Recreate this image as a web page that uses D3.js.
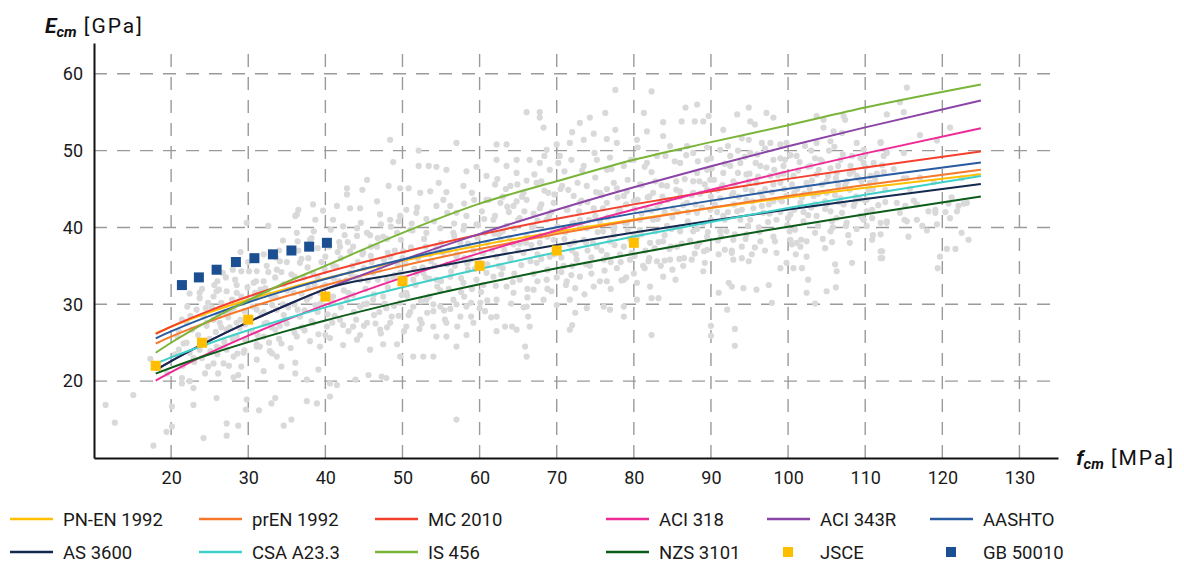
<!DOCTYPE html>
<html>
<head>
<meta charset="utf-8">
<script src="https://cdn.jsdelivr.net/npm/d3@7"></script>
<style>
  body { margin: 0; background: #fff; }
  svg { display: block; font-family: Roboto, "Noto Sans", sans-serif; }
</style>
</head>
<body>
<div id="chart"></div>
<script>
// f_cm values at which the code curves are read
var fcmPoints = [18, 20, 25, 30, 35, 40, 50, 60, 70, 80, 90, 100, 110, 125];

// E_cm [GPa] per code
var pnEN1992 = [26.24, 27.08, 28.96, 30.59, 32.04, 33.35, 35.66, 37.66, 39.44, 41.05, 42.53, 43.90, 45.17, 46.93];
var prEN1992 = [24.90, 25.79, 27.78, 29.52, 31.08, 32.49, 35.00, 37.19, 39.15, 40.93, 42.57, 44.10, 45.52, 47.50];
var mc2010   = [26.15, 27.09, 29.18, 31.01, 32.64, 34.13, 36.76, 39.07, 41.13, 43.00, 44.72, 46.32, 47.81, 49.90];
var aci318   = [20.08, 21.17, 23.67, 25.92, 28.00, 29.93, 33.47, 36.66, 39.60, 42.33, 44.90, 47.33, 49.64, 52.92];
var aci343R  = [21.45, 22.61, 25.28, 27.69, 29.91, 31.98, 35.75, 39.16, 42.30, 45.22, 47.96, 50.56, 53.02, 56.52];
var aashto   = [25.57, 26.47, 28.49, 30.26, 31.84, 33.28, 35.82, 38.04, 40.03, 41.83, 43.49, 45.03, 46.46, 48.46];
var as3600   = [21.45, 22.61, 25.28, 27.69, 29.91, 31.98, 34.06, 35.97, 37.72, 39.35, 40.88, 42.33, 43.70, 45.66];
var csaA233  = [22.28, 23.09, 24.94, 26.62, 28.16, 29.60, 32.23, 34.60, 36.78, 38.82, 40.72, 42.53, 44.25, 46.68];
var is456    = [23.7, 25.0, 27.9, 30.5, 32.9, 35.0, 39.3, 43.1, 46.0, 48.8, 51.1, 53.3, 55.6, 58.6];
var nzs3101  = [20.99, 21.75, 23.50, 25.08, 26.54, 27.90, 30.38, 32.62, 34.68, 36.59, 38.40, 40.10, 41.72, 44.02];

// point series
var jsceFcm = [18, 24, 30, 40, 50, 60, 70, 80];
var jsceE   = [22, 25, 28, 31, 33, 35, 37, 38];
var gbFcm = [21.4, 23.6, 25.9, 28.4, 30.8, 33.2, 35.6, 37.9, 40.2];
var gbE   = [32.5, 33.5, 34.5, 35.5, 36.0, 36.5, 37.0, 37.5, 38.0];

// test results [fcm, Ecm]
var tests = [
[11.5,16.9],[12.7,14.6],[15.1,18.2],[17.7,11.6],[19.4,13.4],[20.1,14.1],[20.1,16.7],[17.3,22.9],[18.5,21.8],[19.5,21.0],
[21.4,28.0],[22.1,29.7],[22.4,31.4],[23.7,30.8],[23.3,29.3],[22.0,27.6],[22.7,26.7],[20.8,25.8],[21.6,24.9],[22.4,23.7],
[22.9,23.0],[21.0,24.1],[23.7,24.1],[24.4,24.9],[24.6,27.6],[24.2,28.4],[21.4,20.4],[21.4,19.7],[22.4,20.0],[22.9,19.1],
[24.4,21.0],[24.8,21.9],[22.9,16.9],[24.2,12.6],[23.7,31.5],[24.8,30.2],
[26.7,34.1],[25.9,31.7],[27.2,31.7],[26.5,30.2],[27.6,29.1],[25.5,28.0],[26.3,27.6],[27.2,26.7],[28.5,27.6],[28.5,25.8],
[25.9,24.5],[27.2,24.1],[28.1,23.2],[25.5,22.3],[26.8,22.3],[28.7,20.8],[28.1,20.5],[26.1,21.0],[25.9,17.8],[27.2,14.5],
[27.2,12.9],[28.7,14.2],[29.0,36.8],[29.1,34.3],[28.5,31.5],[29.4,30.2],[29.6,25.4],[29.4,23.7],[29.1,21.9],[29.8,17.6],
[29.7,16.3],[29.8,40.6],
[32.6,40.2],[34.5,38.3],[31.1,34.3],[32.4,35.0],[33.7,34.5],[34.3,34.2],[30.7,32.8],[32.0,33.0],[33.0,31.0],[31.1,29.3],
[32.4,27.6],[33.5,26.7],[32.0,25.8],[34.3,24.9],[31.1,24.5],[32.8,23.9],[33.7,23.2],[31.1,22.8],[32.0,21.3],[34.3,21.9],
[31.4,16.2],[33.0,17.1],[33.5,17.8],[34.6,14.2],[30.9,31.5],[33.7,29.3],[34.8,28.0],
[20.5,23.5],[21.0,26.5],[21.5,22.0],[22.0,25.0],[22.5,28.5],[23.0,22.5],[23.5,26.0],[24.0,23.0],[24.5,29.5],[25.0,25.5],
[25.5,31.0],[26.0,23.5],[26.5,27.0],[27.0,29.0],[27.5,22.0],[28.0,25.5],[28.5,32.5],[29.0,28.0],[29.5,24.0],[30.0,30.5],
[30.5,26.5],[31.0,33.0],[31.5,24.5],[32.0,29.0],[32.5,31.5],[33.0,27.0],[33.5,33.5],[34.0,25.5],[34.5,30.0],[35.0,27.5],
[35.0,35.5],[34.0,37.0],[32.0,36.5],[30.0,35.5],[28.0,34.5],[26.0,33.0],[24.0,32.0],
[48.4,51.4],[57.0,51.0],[52.1,50.0],[48.8,48.5],[52.1,48.0],[53.4,48.0],[54.4,47.9],[55.7,47.5],[58.3,47.3],[59.6,47.9],
[60.9,46.7],[45.4,46.2],[42.8,45.1],[44.8,44.9],[48.2,45.4],[49.7,45.1],[50.8,45.1],[52.3,44.5],[53.6,44.7],[54.7,45.8],
[55.7,44.6],[57.9,45.4],[59.0,44.5],[42.8,44.3],[46.7,43.4],[41.5,42.8],[38.4,43.0],[36.5,42.3],[36.1,41.5],[39.7,42.2],
[43.2,42.5],[44.5,42.5],[47.1,41.7],[48.4,41.0],[49.7,41.5],[50.5,42.3],[51.8,41.9],[54.4,42.8],[56.2,42.8],[57.0,41.9],
[58.3,41.5],[60.3,42.1],[60.9,43.6],[36.3,41.7],[38.7,41.0],
[41.0,41.0],[42.3,40.15],[44.1,39.9],[45.4,39.3],[47.5,38.8],[49.3,39.3],[51.0,39.7],[53.1,39.3],[54.9,39.9],[56.6,39.3],
[57.9,39.7],[59.6,40.4],[60.7,39.3],[36.3,39.3],[38.0,38.4],[40.2,38.2],[41.9,37.5],[43.6,37.5],[44.9,36.7],[46.7,37.5],
[48.4,36.2],[50.1,36.9],[51.9,36.2],[53.6,36.5],[55.3,36.7],[57.0,36.2],[58.8,35.8],[60.5,36.7],
[36.7,35.4],[38.4,34.1],[41.0,35.0],[43.2,34.1],[44.5,33.2],[46.2,34.1],[48.0,33.2],[49.7,34.1],[51.4,33.2],[52.7,34.1],
[54.4,33.2],[56.2,33.6],[57.9,32.8],[59.6,33.2],[60.9,34.1],
[35.9,31.5],[37.6,30.6],[39.3,31.5],[41.0,30.2],[42.8,30.6],[44.5,29.7],[46.2,30.6],[47.9,29.5],[49.7,30.2],[51.4,29.7],
[53.1,30.6],[54.9,29.7],[56.6,30.6],[58.3,29.7],[60.1,30.2],
[36.7,28.4],[38.4,27.6],[40.2,27.1],[41.9,28.0],[43.6,27.1],[45.4,27.6],[47.1,26.7],[48.4,27.6],[50.5,27.1],[52.3,28.0],
[54.0,27.1],[55.7,27.6],[57.5,28.4],[59.2,27.6],
[36.3,25.8],[38.0,25.2],[39.3,24.5],[40.6,25.6],[42.3,24.7],[44.1,25.4],[45.8,24.1],[47.5,24.8],[49.3,24.8],[51.4,23.2],
[52.7,23.2],[54.4,25.8],[55.7,25.8],[57.0,24.5],[58.3,26.0],
[36.1,22.4],[36.1,21.0],[37.6,20.2],[39.1,21.5],[40.6,19.7],[41.5,19.5],[43.9,20.2],[45.6,20.8],[47.3,20.6],[47.9,20.4],
[38.9,17.1],[37.6,17.4],[40.6,18.0],[35.6,15.0],[57.0,15.0],[49.7,23.2],[54.0,23.2],
[36.5,37.0],[37.2,33.5],[37.8,36.0],[38.5,39.5],[39.0,29.0],[39.5,35.5],[40.0,32.5],[40.5,37.5],[41.2,28.5],[41.8,33.0],
[42.5,39.0],[43.0,31.5],[43.5,35.0],[44.0,28.0],[44.8,36.5],[45.2,32.0],[45.8,39.0],[46.5,27.5],[47.0,34.5],[47.5,31.0],
[48.0,38.5],[48.8,33.5],[49.5,28.5],[50.0,36.0],[50.5,31.5],[51.2,40.5],[51.8,34.0],[52.5,27.5],[53.0,37.5],[53.5,31.0],
[54.2,35.0],[55.0,38.0],[55.5,28.0],[56.0,32.0],[56.8,35.0],[57.5,38.0],[58.0,31.0],[58.5,34.5],[59.2,37.0],[60.0,29.5],
[60.5,32.5],[61.0,38.0],[36.0,30.0],[37.0,27.0],[38.0,31.0],[39.0,33.5],[40.0,26.0],[41.0,31.0],[42.0,36.0],[43.0,26.5],
[44.0,33.5],[45.0,30.0],[46.0,35.5],[47.0,29.0],[48.0,27.0],[49.0,37.0],[50.0,33.5],[51.0,29.0],[52.0,36.0],[53.0,33.5],
[54.0,30.0],[55.0,33.0],[56.0,37.0],[57.0,30.0],[58.0,36.0],[59.0,32.0],[60.0,35.5],[61.0,30.5],
[77.6,57.9],[82.3,57.7],[66.1,55.0],[67.8,55.0],[67.8,54.3],[68.3,53.0],[76.3,54.9],[81.3,54.9],[86.7,55.6],[86.2,53.8],
[83.8,53.7],[81.7,52.5],[80.4,51.4],[77.6,52.7],[74.3,54.3],[73.0,53.6],[72.0,52.4],[73.5,51.4],[74.8,52.2],[76.5,51.5],
[77.8,51.0],[71.7,51.0],[70.0,50.8],[68.7,50.1],[62.2,50.8],[63.5,50.8],[62.2,48.8],[63.5,48.0],[64.8,48.8],[64.8,47.1],
[66.5,48.8],[67.8,48.4],[69.1,47.5],[70.4,49.3],[71.9,48.8],[73.5,48.0],[75.2,48.8],[76.5,47.5],[78.7,48.0],[80.0,48.8],
[81.7,48.4],[83.0,49.3],[84.7,50.6],[86.0,48.4],[86.9,50.6],[83.8,51.9],
[62.0,45.6],[64.0,45.4],[65.7,44.5],[67.4,45.8],[68.9,44.5],[70.7,45.4],[72.2,44.1],[73.9,45.4],[75.6,44.5],[77.4,45.8],
[79.1,44.7],[80.8,45.6],[82.5,44.5],[84.3,45.4],[86.0,44.7],
[62.7,43.2],[64.4,42.8],[66.1,43.6],[67.8,42.5],[69.6,43.2],[71.3,42.3],[73.0,43.2],[74.8,42.5],[76.5,43.2],[78.2,42.3],
[80.0,43.4],[81.7,42.3],[83.4,43.2],[85.1,42.5],[86.9,43.2],
[61.8,41.0],[63.5,40.2],[65.2,41.2],[67.0,40.2],[68.7,41.0],[70.4,39.7],[72.2,40.6],[73.9,39.9],[75.6,40.8],[77.4,39.7],
[79.1,40.6],[80.8,39.7],[82.5,41.0],[84.3,40.2],[86.0,39.5],
[62.7,38.4],[64.4,37.8],[66.1,38.8],[67.8,38.0],[69.6,38.4],[71.7,37.8],[73.5,38.4],[75.2,37.5],[76.9,38.2],[78.7,37.5],
[80.4,38.8],[82.1,38.0],[83.8,38.2],[85.6,37.5],
[62.2,36.2],[64.0,35.8],[65.7,36.7],[67.4,35.4],[69.1,36.2],[70.9,35.0],[72.6,35.8],[74.3,35.0],[76.1,35.8],[77.8,34.7],
[79.5,35.8],[81.2,35.0],[83.0,35.6],[84.7,35.8],[86.4,35.0],
[61.8,33.6],[63.5,32.3],[65.2,33.2],[67.0,31.9],[68.7,33.2],[71.3,33.0],[73.0,33.6],[74.8,32.3],[76.5,33.0],[78.7,33.2],
[80.4,32.8],[82.1,32.3],[83.8,33.6],[85.4,33.2],
[62.2,30.6],[64.4,31.5],[66.1,29.7],[68.3,30.6],[70.0,29.9],[71.7,30.6],[73.9,29.5],[76.1,29.7],[78.7,29.7],[80.4,30.6],
[83.2,30.8],[82.3,30.8],[62.2,28.4],[63.3,27.1],[64.2,27.1],[62.2,26.5],[64.8,26.7],[66.3,28.4],[66.5,27.1],[72.0,27.3],
[71.7,26.7],[72.4,28.9],[76.9,29.3],[78.7,28.4],[82.3,26.0],[65.9,24.5],[66.1,23.2],
[62.5,35.0],[63.0,39.5],[63.8,42.0],[64.5,34.0],[65.0,37.0],[65.5,44.0],[66.2,32.0],[66.8,40.0],[67.5,36.5],[68.0,43.0],
[68.8,34.5],[69.5,39.5],[70.0,37.0],[70.5,45.0],[71.2,32.5],[72.0,40.5],[72.5,36.5],[73.2,43.5],[73.8,38.0],[74.5,34.0],
[75.0,41.5],[75.8,37.0],[76.5,45.0],[77.0,32.0],[77.5,40.0],[78.2,36.5],[79.0,43.0],[79.5,38.5],[80.0,34.0],[80.8,41.0],
[81.5,37.0],[82.0,44.0],[82.8,39.5],[83.5,35.0],[84.0,42.0],[84.8,37.5],[85.5,46.0],[86.0,40.0],[86.5,36.0],[87.0,42.0],
[62.0,41.5],[63.0,44.0],[64.0,36.0],[65.0,41.0],[66.0,38.0],[67.0,34.0],[68.0,46.0],[69.0,41.5],[70.0,33.5],[71.0,38.5],
[72.0,35.0],[73.0,41.0],[74.0,37.0],[75.0,46.5],[76.0,39.5],[77.0,35.5],[78.0,42.0],[79.0,33.5],[80.0,39.0],[81.0,45.5],
[82.0,36.0],[83.0,42.5],[84.0,39.0],[85.0,34.5],[86.0,44.0],
[88.2,56.0],[89.0,53.8],[89.7,54.5],[87.9,53.8],[91.6,52.7],[93.4,54.7],[94.9,55.6],[95.1,53.8],[95.7,53.4],[97.2,54.9],
[98.1,54.3],[94.9,51.4],[96.6,51.0],[97.7,51.0],[99.0,50.8],[99.8,51.0],[103.7,54.5],[104.6,53.0],[104.6,54.0],[107.2,54.5],
[107.4,54.0],[105.9,52.5],[107.0,52.3],[109.8,50.1],[112.0,51.0],[108.9,51.0],[105.5,51.2],[103.7,51.0],
[87.7,49.7],[89.5,48.8],[91.2,50.1],[92.5,49.3],[93.8,48.4],[95.1,49.7],[96.4,48.0],[98.1,48.8],[99.4,48.0],[101.1,49.3],
[102.9,48.0],[104.2,48.8],[105.5,47.7],[106.8,48.8],[108.1,48.0],[109.4,49.0],[111.1,48.4],[112.4,49.3],
[88.2,47.1],[89.9,46.2],[91.6,47.1],[92.9,46.0],[94.6,46.9],[95.9,45.8],[97.7,46.7],[99.0,45.8],[100.7,46.7],[102.4,45.8],
[103.7,46.9],[105.0,46.0],[106.3,47.1],[107.6,46.0],[108.9,46.7],[110.6,45.8],
[87.7,44.5],[89.5,44.9],[91.2,43.8],[92.9,44.5],[94.6,43.6],[96.4,44.5],[98.1,43.4],[99.8,44.1],[101.6,43.2],[103.3,44.1],
[105.0,43.0],[106.8,43.8],[108.5,42.8],[110.2,43.6],
[88.2,41.9],[89.9,42.3],[91.6,41.5],[93.4,42.1],[95.1,41.0],[96.8,41.9],[98.5,41.0],[100.3,41.7],[102.0,40.8],[103.7,41.5],
[105.5,42.1],[107.6,40.6],[109.4,41.5],[110.9,42.3],
[87.7,39.5],[89.5,38.8],[91.2,39.5],[92.9,38.4],[94.6,39.1],[96.4,38.2],[98.1,38.8],[100.3,38.4],[101.6,37.5],[100.5,37.8],
[101.1,38.0],[102.4,38.2],[105.5,39.5],[106.3,41.2],[109.8,41.0],[110.2,40.2],[110.9,41.2],[112.0,40.6],[112.8,40.8],
[88.2,37.5],[89.5,37.1],[91.8,37.1],[92.7,36.7],[92.9,35.8],[94.0,36.0],[94.9,35.6],[95.3,36.5],[89.2,35.4],[87.5,35.8],
[89.0,34.3],[99.8,35.4],[100.7,34.7],[99.0,34.7],[101.8,34.7],[102.4,36.2],[104.8,37.3],[106.1,35.2],[106.3,34.3],[108.3,35.4],
[112.0,36.9],[112.0,36.0],
[92.7,32.3],[92.3,32.8],[94.2,32.1],[95.9,31.9],[97.5,32.5],[91.0,31.5],[97.9,30.2],[102.4,31.5],[102.6,33.2],[103.5,30.1],
[105.0,31.7],[106.2,32.2],[92.1,29.3],[90.0,27.2],[90.0,25.9],[93.1,26.8],[93.1,24.6],
[88.0,43.0],[88.5,46.0],[89.0,40.5],[89.5,47.5],[90.0,44.0],[90.8,42.0],[91.5,45.5],[92.0,39.5],[92.5,48.0],[93.0,43.0],
[93.8,41.0],[94.5,45.0],[95.0,47.0],[95.5,42.5],[96.2,40.0],[97.0,45.0],[97.5,43.0],[98.2,47.5],[99.0,42.0],[99.5,45.0],
[100.2,39.5],[100.8,44.5],[101.5,48.5],[102.0,42.0],[102.8,45.0],[103.5,43.0],[104.0,47.5],[105.0,44.5],[105.8,40.0],[106.5,45.5],
[107.2,43.0],[108.0,47.0],[108.8,44.0],[109.5,46.0],[110.0,43.5],[111.0,45.0],[111.5,47.0],
[88.5,38.0],[90.0,49.0],[91.0,36.5],[93.5,50.0],[94.0,37.5],[96.0,49.5],[97.0,37.0],[99.0,49.0],[101.0,36.5],[103.0,50.0],
[104.5,38.5],[106.0,50.5],[108.0,38.0],[110.0,49.5],[111.0,39.0],
[115.4,58.2],[114.5,56.3],[112.8,54.7],[115.0,55.0],[121.0,53.0],[117.1,52.0],[112.0,51.1],[115.0,49.7],[112.8,49.7],[113.7,47.6],
[112.4,47.2],[115.4,46.4],[115.0,46.4],[117.1,46.5],[118.9,45.9],[122.5,46.4],[115.8,45.0],[114.1,43.2],[112.6,43.3],[115.2,42.8],
[116.3,43.5],[116.7,43.0],[114.5,41.9],[115.1,41.0],[115.4,40.8],[116.7,41.0],[117.4,40.2],[118.2,42.1],[119.1,41.9],[119.1,42.3],
[118.0,39.6],[119.3,40.4],[120.4,42.0],[121.0,41.2],[120.8,43.1],[121.2,43.9],[121.9,42.1],[122.1,42.8],[122.8,43.1],[123.2,43.2],
[122.5,39.3],[123.4,38.4],[120.6,37.2],[121.7,37.2],[119.7,36.2],[119.4,34.7],[112.0,39.1],[112.2,36.9],[112.2,36.0],[115.6,38.8],
[112.8,40.6],[119.3,51.3],
[25.3,29.6],[25.8,26.4],[26.2,31.9],[26.9,25.1],[27.4,28.3],[27.9,30.6],[28.3,33.2],[28.9,26.9],[29.5,29.1],[29.9,32.2],
[30.3,28.2],[30.8,30.9],[31.2,26.0],[31.7,28.7],[32.2,32.1],[32.7,25.0],[33.1,29.9],[33.6,36.1],[34.1,27.2],[34.6,32.6],
[35.2,29.6],[35.6,33.9],[36.0,26.3],[36.4,38.2],[36.9,31.4],[37.3,29.2],[37.7,34.8],[38.2,27.8],[38.6,32.5],[39.0,37.3],
[39.4,30.1],[39.9,34.6],[40.3,28.7],[40.7,39.7],[41.1,33.4],[41.6,36.8],[42.0,29.6],[42.4,31.8],[42.9,38.1],[43.3,33.9],
[43.7,29.0],[44.2,35.5],[44.6,40.6],[45.0,27.2],[45.5,33.1],[45.9,36.3],[46.3,31.3],[46.8,38.6],[47.2,26.2],[47.6,35.8],
[48.1,32.2],[48.5,40.1],[48.9,29.8],[49.4,35.1],[49.8,38.4],[50.2,26.5],[50.6,31.1],[51.1,37.4],[51.5,34.6],[51.9,42.6],
[52.4,30.4],[52.8,38.5],[53.2,28.9],[53.7,35.6],[54.1,40.8],[54.5,32.3],[55.0,36.9],[55.4,29.2],[55.8,41.9],[56.3,34.3],
[56.7,38.9],[57.1,27.1],[57.6,33.4],[58.0,40.2],[58.4,35.3],[58.9,30.2],[59.3,43.6],[59.7,38.7],[60.2,31.6],[60.6,41.1],
[61.0,35.2],[61.5,28.3],[61.9,39.2],[62.3,46.3],[62.8,33.9],[63.2,37.1],[63.6,42.7],[64.1,30.1],[64.5,39.9],[64.9,45.6],
[65.4,35.1],[65.8,42.1],[66.2,30.9],[66.7,37.7],[67.1,46.9],[67.5,40.9],[68.0,35.9],[68.4,49.3],[68.8,38.8],[69.3,31.7],
[69.7,44.3],[70.1,40.1],[70.6,36.1],[71.0,47.3],[71.4,42.3],[71.9,33.8],[72.3,38.1],[72.7,45.8],[73.2,40.0],[73.6,31.3],
[74.0,43.3],[74.5,36.1],[74.9,49.7],[75.3,39.4],[75.8,44.2],[76.2,34.4],[76.6,41.3],[77.1,47.6],[77.5,37.7],[77.9,43.9],
[78.4,33.1],[78.8,40.6],[79.2,46.2],[79.7,36.7],[80.1,42.4],[80.5,50.4],[81.0,39.1],[81.4,34.7],[81.8,43.9],[82.3,47.2],
[82.7,37.3],[83.1,41.1],[83.6,45.5],[84.0,35.7],[84.4,43.6],[84.9,39.8],[85.3,48.6],[85.7,42.0],[86.2,37.9],[86.6,46.3],
[87.0,40.8],[87.5,44.2],[87.9,36.6],[88.3,48.6],[88.8,42.6],[89.2,45.6],[89.6,39.4],[90.1,47.7],[90.5,43.0],[90.9,38.3],
[91.4,45.3],[91.8,41.0],[92.2,50.6],[92.7,44.2],[93.1,39.1],[93.5,47.1],[94.0,42.3],[94.4,49.2],[94.8,40.2],[95.3,44.8],
[95.7,37.4],[96.1,46.6],[96.6,42.8],[97.0,50.3],[97.4,40.7],[97.9,44.6],[98.3,38.2],[98.7,46.8],[99.2,43.4],[99.6,48.8],
[100.0,41.2],[100.5,45.6],[100.9,39.7],[101.3,47.4],[101.8,43.9],[102.2,50.6],[102.6,41.6],[103.1,46.1],[103.5,39.3],[103.9,44.4],
[104.4,48.6],[104.8,42.4],[105.2,46.7],[105.7,40.8],[106.1,44.2],[106.5,48.0],[107.0,41.9],[107.4,45.5],[107.8,39.0],[108.3,49.3],
[108.7,43.3],[109.1,46.4],[109.6,41.3],[110.0,47.9],[110.4,44.9],[110.9,38.4],[111.3,46.2],[111.7,42.9],[112.2,48.1],[112.6,44.9],
[24.6,27.2],[25.1,23.9],[25.6,32.5],[26.1,28.6],[26.6,24.3],[27.1,33.5],[27.6,27.0],[28.1,29.5],[28.6,23.6],[29.1,31.0],
[29.6,27.4],[30.1,34.3],[30.6,29.7],[31.1,24.8],[31.6,31.9],[32.1,27.5],[32.6,34.2],[33.1,23.6],[33.6,30.9],[34.1,35.6],
[34.6,28.6],[35.1,31.8],[35.5,24.3],[36.0,33.6],[36.4,29.3],[36.9,35.9],[37.3,26.6],[37.8,32.1],[38.2,38.6],[38.7,29.9],
[39.1,26.1],[39.6,32.2],[40.0,36.2],[40.5,30.9],[40.9,27.6],[41.4,34.9],[41.8,38.1],[42.3,27.3],[42.7,33.1],[43.2,36.9],
[43.6,31.2],[44.1,38.9],[44.5,26.0],[45.0,34.7],[45.4,30.1],[45.9,37.5],[46.3,28.6],[46.8,33.2],[47.2,40.4],[47.7,30.1],
[48.1,36.7],[48.6,28.4],[49.0,33.8],[49.5,40.8],[49.9,31.2],[50.4,35.3],[50.8,28.6],[51.3,39.6],[51.7,32.5],[52.2,26.8],
[52.6,34.8],[53.1,41.1],[53.5,33.3],[54.0,29.1],[54.4,37.3],[54.9,31.8],[55.3,43.6],[55.8,35.2],[56.2,29.4],[56.7,40.5],
[57.1,36.5],[57.6,31.6],[58.0,43.1],[58.5,37.9],[58.9,28.4],[59.4,34.6],[59.8,40.3],[60.3,36.7],[60.7,29.1],[61.2,43.6],
[61.6,37.1],[62.1,32.4],[62.5,39.1],[63.0,34.7],[63.4,45.0],[63.9,38.6],[64.3,32.9],[64.8,43.4],[65.2,37.9],[65.7,29.6],
[66.1,46.1],[66.6,35.6],[67.0,41.8],[67.5,33.0],[67.9,38.9],[68.4,44.8],[68.8,32.0],[69.3,42.0],[69.7,36.5],[70.2,48.4],
[70.6,34.2],[71.1,39.4],[71.5,44.9],[72.0,37.0],[72.4,32.1],[72.9,42.1],[73.3,47.4],[73.8,35.2],[74.2,41.0],[74.7,38.0],
[75.1,44.6],[75.6,33.0],[76.0,42.5],[76.5,36.4],[76.9,49.1],[77.4,39.0],[77.8,45.1],[78.3,35.5],[78.7,44.1],[79.2,39.6],
[79.6,48.8],[80.1,36.3],[80.5,43.6],[81.0,41.8],[81.4,47.9],[81.9,35.6],[82.3,42.2],[82.8,46.0],[83.2,38.1],[83.7,44.0],
[84.1,49.3],[84.6,37.2],[85.0,41.3],[85.5,44.9],[85.9,35.9],[86.4,42.9],[86.8,49.4],[87.3,38.3],[87.7,46.0],[88.2,39.8],
[88.6,44.4],[89.1,36.9],[89.5,50.4],[90.0,41.0],[90.4,46.2],[90.9,44.9],[91.3,38.8],[91.8,48.3],[92.2,42.0],[92.7,37.0],
[93.1,45.7],[93.6,44.0],[94.0,51.6],[94.5,38.5],[94.9,46.0],[95.4,43.4],[95.8,48.4],[96.3,39.4],[96.7,43.9],[97.2,47.8],
[97.6,41.8],[98.1,45.6],[98.5,36.7],[99.0,43.6],[99.4,47.0],[99.9,40.3],[100.3,49.4],[100.8,42.3],[101.2,45.0],[101.7,38.4],
[102.1,44.4],[102.6,47.9],[103.0,42.6],[103.5,49.0],[103.9,40.2],[104.4,45.6],[104.8,43.4],[105.3,50.0],[105.7,38.1],[106.2,46.4],
[106.6,43.3],[107.1,49.5],[107.5,40.2],[108.0,44.9],[108.4,47.3],[108.9,39.8],[109.3,43.7],[109.8,48.4],[110.2,42.1],[110.7,46.7]
];

var seriesNames  = ["PN-EN 1992", "prEN 1992", "MC 2010", "ACI 318", "ACI 343R", "AASHTO",
                    "AS 3600", "CSA A23.3", "IS 456", "NZS 3101", "JSCE", "GB 50010"];
var seriesColors = ["#ffbf00", "#f7782a", "#f4402c", "#ee2a96", "#8a45a6", "#285ba0",
                    "#13294d", "#3fd1c9", "#7ab53a", "#0c5d1a", "#ffbf00", "#1b4f91"];
var lineValues = [pnEN1992, prEN1992, mc2010, aci318, aci343R, aashto, as3600, csaA233, is456, nzs3101];

var width = 1184, height = 563;

var svg = d3.select("#chart")
  .append("svg")
    .attr("width", width)
    .attr("height", height);

var x = d3.scaleLinear().domain([10, 135]).range([94, 1058]);
var y = d3.scaleLinear().domain([10, 64]).range([458, 43]);

// grid
var grid = svg.append("g")
  .attr("stroke", "#9a9a9a")
  .attr("stroke-width", 1.4)
  .attr("stroke-dasharray", "13,10");

grid.selectAll("line.v")
  .data(d3.range(20, 131, 10))
  .enter()
  .append("line")
    .attr("x1", function(d) { return x(d); })
    .attr("x2", function(d) { return x(d); })
    .attr("y1", y(10))
    .attr("y2", y(63));

grid.selectAll("line.h")
  .data([20, 30, 40, 50, 60])
  .enter()
  .append("line")
    .attr("y1", function(d) { return y(d); })
    .attr("y2", function(d) { return y(d); })
    .attr("x1", x(10))
    .attr("x2", x(135));

// test results
svg.append("g")
  .selectAll("circle")
  .data(tests)
  .enter()
  .append("circle")
    .attr("cx", function(d) { return x(d[0]); })
    .attr("cy", function(d) { return y(d[1]); })
    .attr("r", 3.1)
    .style("fill", "#d9d9d9");

// code curves
var line = d3.line()
  .x(function(d) { return x(d[0]); })
  .y(function(d) { return y(d[1]); })
  .curve(d3.curveMonotoneX);

lineValues.forEach(function(vals, i) {
  svg.append("path")
    .datum(fcmPoints.map(function(f, k) { return [f, vals[k]]; }))
    .attr("d", line)
    .attr("fill", "none")
    .attr("stroke", seriesColors[i])
    .attr("stroke-width", 2);
});

// JSCE and GB 50010 markers
svg.append("g")
  .selectAll("rect")
  .data(jsceFcm.map(function(f, k) { return [f, jsceE[k]]; }))
  .enter()
  .append("rect")
    .attr("x", function(d) { return x(d[0]) - 5; })
    .attr("y", function(d) { return y(d[1]) - 5; })
    .attr("width", 10)
    .attr("height", 10)
    .style("fill", seriesColors[10]);

svg.append("g")
  .selectAll("rect")
  .data(gbFcm.map(function(f, k) { return [f, gbE[k]]; }))
  .enter()
  .append("rect")
    .attr("x", function(d) { return x(d[0]) - 5; })
    .attr("y", function(d) { return y(d[1]) - 5; })
    .attr("width", 10)
    .attr("height", 10)
    .style("fill", seriesColors[11]);

// axes
svg.append("g")
  .attr("transform", "translate(0," + y(10) + ")")
  .call(d3.axisBottom(x).tickValues(d3.range(20, 131, 10)).tickSize(0).tickPadding(13))
  .call(function(g) {
    g.select(".domain").attr("stroke", "#111").attr("stroke-width", 2);
    g.selectAll("text").attr("font-size", 18).attr("fill", "#1a1a1a").attr("font-family", "Roboto");
  });

svg.append("g")
  .attr("transform", "translate(" + x(10) + ",0)")
  .call(d3.axisLeft(y).tickValues([20, 30, 40, 50, 60]).tickSize(0).tickPadding(11))
  .call(function(g) {
    g.select(".domain").attr("stroke", "#111").attr("stroke-width", 2);
    g.selectAll("text").attr("font-size", 18).attr("fill", "#1a1a1a").attr("font-family", "Roboto");
  });

// axis titles
var yTitle = svg.append("text").attr("x", 45).attr("y", 33).attr("fill", "#111");
yTitle.append("tspan").text("E").attr("font-size", 21).attr("font-weight", "bold").attr("font-style", "italic");
yTitle.append("tspan").text("cm").attr("font-size", 15).attr("font-weight", "bold").attr("font-style", "italic").attr("dy", 4);
yTitle.append("tspan").text(" [GPa]").attr("font-size", 21).attr("dy", -4).attr("letter-spacing", 2);

var xTitle = svg.append("text").attr("x", 1175).attr("y", 465).attr("text-anchor", "end").attr("fill", "#111");
xTitle.append("tspan").text("f").attr("font-size", 21).attr("font-weight", "bold").attr("font-style", "italic");
xTitle.append("tspan").text("cm").attr("font-size", 15).attr("font-weight", "bold").attr("font-style", "italic").attr("dy", 4);
xTitle.append("tspan").text(" [MPa]").attr("font-size", 21).attr("dy", -4).attr("letter-spacing", 2);

// legend
var legendX = [10, 199, 375, 606, 767, 930];
var legendY = [519, 552];

var legend = svg.append("g")
  .selectAll("g")
  .data(seriesNames)
  .enter()
  .append("g")
    .attr("transform", function(d, i) {
      return "translate(" + legendX[i % 6] + "," + legendY[Math.floor(i / 6)] + ")";
    });

legend.each(function(d, i) {
  var g = d3.select(this);
  if (i < 10) {
    g.append("line")
      .attr("x1", 0).attr("x2", 43)
      .attr("stroke", seriesColors[i])
      .attr("stroke-width", 2.5);
  } else {
    g.append("rect")
      .attr("x", 16).attr("y", -5)
      .attr("width", 10).attr("height", 10)
      .style("fill", seriesColors[i]);
  }
  g.append("text")
    .attr("x", 53)
    .attr("y", 6.5)
    .attr("font-size", 18.5)
    .attr("fill", "#1a1a1a")
    .text(d);
});
</script>
</body>
</html>
